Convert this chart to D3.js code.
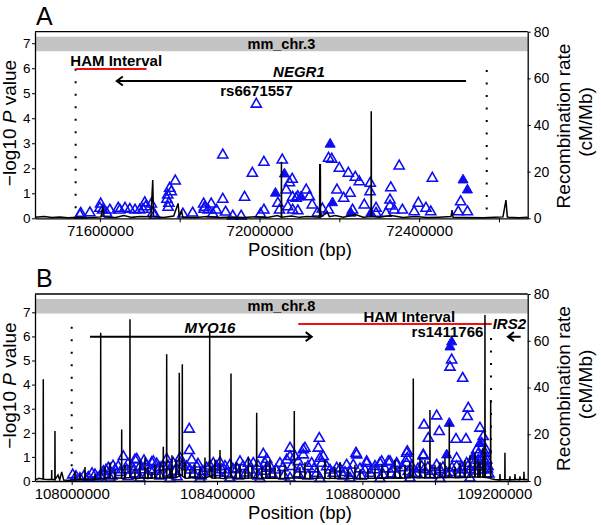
<!DOCTYPE html>
<html><head><meta charset="utf-8">
<script src="https://cdn.jsdelivr.net/npm/d3@7"></script>
<style>body{margin:0;background:#fff}svg{display:block;font-family:"Liberation Sans",Arial,Helvetica,sans-serif}</style>
</head><body><svg id="c" width="601" height="525"></svg>
<script>
// ---------- shared tick values ----------
const leftTicks = [0,1,2,3,4,5,6,7];
const rightTicks = [0,20,40,60,80];
const xLabelTicksA = [71600000,72000000,72400000];
const xMinorTicksA = [71800000,72200000,72600000];
const xLabelTicksB = [108000000,108400000,108800000,109200000];
const xMinorTicksB = [108200000,108600000,109000000];

// ---------- Panel A (positions in Mb, -log10 P) ----------
const snpOpenA = [[71.552,0.20],[71.575,0.22],[71.602,0.57],[71.607,0.33],[71.617,0.20],[71.650,0.33],[71.663,0.40],[71.675,0.36],[71.700,0.33],[71.7125,0.62],[71.708,0.36],[71.715,0.46],[71.7375,0.13],[71.775,1.20],[71.770,0.93],[71.779,1.06],[71.768,0.76],[71.773,0.60],[71.771,0.44],[71.789,1.49],[71.808,0.17],[71.8625,0.44],[71.879,0.57],[71.892,0.33],[71.883,0.17],[71.908,0.76],[71.908,2.53],[71.933,0.09],[71.954,0.09],[71.9625,0.84],[71.982,1.80],[72.011,2.24],[72.011,0.33],[72.046,0.60],[72.050,0.33],[72.057,2.33],[72.075,1.42],[72.082,1.56],[72.083,0.84],[72.096,0.86],[72.096,0.30],[72.117,1.13],[72.071,0.46],[72.125,0.86],[72.132,0.53],[72.173,2.40],[72.181,2.36],[72.200,2.00],[72.2225,1.80],[72.240,1.64],[72.250,1.46],[72.2775,1.40],[72.277,1.06],[72.194,1.13],[72.211,0.80],[72.227,1.00],[72.173,0.33],[72.329,1.22],[72.350,2.09],[72.327,0.73],[72.327,0.49],[72.2625,0.53],[72.292,0.40],[72.233,0.33],[72.358,0.33],[72.398,0.60],[72.417,0.40],[72.3875,0.26],[72.429,0.26],[72.433,1.60],[72.504,0.66],[72.498,0.26],[72.521,0.26],[72.317,0.20],[72.292,0.20],[72.3375,0.33],[71.992,4.56],[71.8325,0.21],[71.915,0.25],[72.0025,0.17],[72.145,0.21],[72.1575,0.37],[72.067,1.13],[72.092,0.80],[72.083,0.33],[71.860,0.57],[71.729,0.57],[71.7325,0.20],[71.688,0.33],[71.646,0.40],[71.625,0.33],[71.600,0.40],[71.550,0.13],[71.8715,0.33],[71.861,0.36]];
const snpFilledA = [[72.040,1.00],[72.0625,1.77],[72.104,0.86],[72.177,2.96],[72.183,0.62],[72.510,1.53],[72.521,1.13],[72.279,0.20],[72.229,0.20]];
const recombA = [[71.4375,0.4],[71.46,0.8],[71.48,0.3],[71.50,0.6],[71.52,0.2],[71.545,0.5],[71.565,0.2],[71.59,0.4],[71.603,0.6],[71.607,5.0],[71.611,0.5],[71.64,0.3],[71.66,1.2],[71.68,0.4],[71.70,0.8],[71.728,0.7],[71.7325,16.4],[71.7345,0.8],[71.76,0.3],[71.785,1.0],[71.796,6.4],[71.799,0.7],[71.805,3.0],[71.808,0.4],[71.84,0.3],[71.87,0.8],[71.90,0.3],[71.93,0.6],[71.96,0.3],[71.99,0.7],[72.02,0.3],[72.045,1.2],[72.0545,0.5],[72.055,24.2],[72.0555,0.5],[72.08,1.0],[72.10,0.4],[72.12,0.8],[72.1505,0.5],[72.151,23],[72.1525,23],[72.153,0.5],[72.17,2.5],[72.175,0.7],[72.19,1.2],[72.21,0.5],[72.24,1.6],[72.26,0.5],[72.2795,0.7],[72.28,45.9],[72.2805,0.7],[72.30,0.5],[72.33,1.2],[72.36,0.3],[72.39,0.8],[72.42,0.3],[72.45,0.5],[72.48,0.8],[72.4825,3.5],[72.485,0.4],[72.52,0.3],[72.56,0.2],[72.59,0.4],[72.61,0.6],[72.6175,7.8],[72.621,0.5],[72.65,0.2],[72.672,0.4]];

// ---------- Panel B ----------
const snpOpenB = [[109.0458,5.02],[109.0411,4.72],[109.076,4.26],[109.0915,3.02],[109.0887,2.67],[109.0045,2.70],[108.9695,2.32],[109.1236,2.19],[109.0116,2.05],[108.9814,1.77],[109.0576,1.73],[109.0851,1.73],[108.9676,1.04],[108.9236,1.22],[108.9236,0.94],[108.9695,0.46],[108.7824,1.15],[108.6814,1.77],[108.6786,1.36],[108.6374,1.29],[108.6833,0.94],[108.688,0.73],[108.876,0.80],[108.8531,0.80],[108.8118,0.80],[108.8944,0.73],[108.7568,0.66],[108.7293,0.53],[109.0595,0.94],[109.1327,1.84],[108.3236,2.15],[108.3236,1.26],[108.3302,0.87],[108.142,1.01],[108.1789,0.90],[108.199,0.84],[108.2202,0.76],[108.2339,0.71],[108.5273,1.11],[108.4632,0.80],[108.6008,1.36],
[108.0028,0.25],[108.0228,0.11],[108.0457,0.15],[108.0641,0.25],[108.087,0.39],[108.1007,0.53],[108.1192,0.46],[108.1282,0.59],[108.1514,0.46],[108.188,0.59],[108.1651,0.59],[108.1926,0.46],[108.2155,0.46],[108.2521,0.59],[108.2796,0.73],[108.298,0.76],[108.3165,0.59],[108.344,0.59],[108.3715,0.53],[108.399,0.59],[108.4128,0.46],[108.4266,0.32],[108.4447,0.46],[108.4998,0.73],[108.532,0.73],[108.5366,0.53],[108.5732,0.73],[108.5917,0.87],[108.6145,1.01],[108.642,1.36],[108.6374,1.08],[108.6924,1.01],[108.6605,0.73],[108.7018,0.59],[108.7843,1.08],[108.775,0.66],[108.8118,0.73],[108.8484,0.73],[108.8713,0.80],[108.8944,0.66],[108.9219,1.15],[108.9219,0.73],[108.9263,0.39],[108.9676,1.08],[108.9632,0.59],[109.0045,0.66],[109.0595,0.59],[109.087,0.73],[109.1146,1.29],[109.1283,1.56],[109.1374,1.15],[109.1421,0.87],[109.1236,0.59],[109.0961,0.46],[109.0686,0.32],[109.032,0.32],[108.986,0.25],[108.9494,0.32],[108.8944,0.25],[108.8575,0.25],[108.8209,0.32],[108.7659,0.32],[108.7199,0.32],[108.6742,0.32],
[108.0724,0.12],[108.1109,0.21],[108.155,0.17],[108.1742,0.29],[108.2072,0.25],[108.243,0.21],[108.265,0.33],[108.2898,0.17],[108.3366,0.29],[108.3558,0.21],[108.3834,0.33],[108.4577,0.21],[108.4797,0.33],[108.5127,0.21],[108.5512,0.29],[108.5843,0.21],[108.6228,0.29],[108.6503,0.21],[108.7467,0.21],[108.7962,0.21],[108.8347,0.46],[108.8787,0.29],[108.9365,0.58],[109.0136,0.46],[109.0466,0.54],[109.0769,0.46],[109.1099,0.41],[109.1484,0.29],
[108.1742,0.87],[108.2246,0.80],[108.2614,0.90],[108.298,0.95],[108.3897,0.73],[108.4081,0.76],[108.486,0.73],[108.5366,0.90],[108.6008,1.01],[108.6236,0.80],[109.1305,1.0],[109.1345,0.7],[109.1396,1.3],[109.1442,0.5],[109.1188,0.85],[109.1160,0.6],
[108.0118,0.18],[108.0339,0.20],[108.0559,0.30],[108.0779,0.20],[108.0944,0.45],[108.1137,0.62],[108.1329,0.35],[108.1549,0.70],[108.1714,0.45],[108.2045,0.65],[108.2237,0.40],[108.243,0.55],[108.265,0.62],[108.2843,0.40],[108.3063,0.66],[108.3256,0.45],[108.3476,0.70],[108.3613,0.40],[108.3806,0.62],[108.4026,0.35],[108.4219,0.60],[108.4356,0.66],[108.4549,0.50],[108.4714,0.60],[108.4907,0.45],[108.5127,0.62],[108.5237,0.40],[108.5457,0.60],[108.5622,0.45],[108.5815,0.55],[108.6063,0.60],[108.6283,0.50],[108.6503,0.60],[108.6668,0.50],[108.7109,0.45],[108.7384,0.50],[108.7522,0.35],[108.7934,0.50],[108.8072,0.45],[108.8347,0.60],[108.8622,0.50],[108.8842,0.50],[108.909,0.55],[108.9365,0.30],[108.953,0.50],[108.9805,0.55],[108.9915,0.40],[109.0218,0.55],[109.0411,0.35],[109.0741,0.55],[109.0906,0.60],[109.1071,0.70],[109.1181,1.10],[109.1347,0.45],[109.1457,0.60],
[108.1057,0.12],[108.188,0.12],[108.2705,0.10],[108.3531,0.10],[108.4356,0.12],[108.5182,0.10],[108.6008,0.12],[108.6833,0.10],[108.7659,0.12],[108.8484,0.10],[108.931,0.12],[109.0136,0.10],[109.0961,0.12]];
const snpFilledB = [[109.0458,5.77],[109.0411,5.56],[109.0392,2.39],[109.032,1.08],[109.1052,1.01],[109.1236,1.56]];
const recombB = [[107.899,0.5],[107.91,1.2],
[107.9214,0.8],[107.9218,43.5],[107.9222,0.8],[107.935,0.6],
[107.9446,0.6],[107.945,4.7],[107.9454,0.6],
[107.9536,0.6],[107.954,21.4],[107.9544,0.6],
[107.9623,2.6],[107.967,0.5],[107.9725,3.9],[107.978,0.4],[107.99,0.3],
[108.0085,0.4],[108.0091,4],[108.0097,0.5],
[108.036,0.6],[108.0366,6],[108.0372,0.8],
[108.0635,0.7],[108.0641,3],[108.0647,0.8],
[108.0794,1],[108.0798,63.4],[108.0802,1.2],
[108.1048,1.5],[108.1054,8],[108.106,1.2],
[108.1186,1],[108.1192,5],[108.1198,1.4],
[108.1372,1.2],[108.1376,22],[108.138,1.2],
[108.16,1.5],[108.1604,69.2],[108.1608,1.4],
[108.1874,1.2],[108.188,9],[108.1886,1.5],
[108.2094,1],[108.21,6],[108.2106,1.3],
[108.2286,1.2],[108.2292,7],[108.2298,1.5],
[108.2517,1.2],[108.2521,14.7],[108.2525,1.5],
[108.261,1.2],[108.2614,54.2],[108.2618,1.6],
[108.2754,1.3],[108.276,11],[108.2766,1.5],
[108.2957,2],[108.2961,46.3],[108.2965,2.5],
[108.304,2.5],[108.3044,49.9],[108.3048,2],
[108.3112,1.5],[108.3118,8],[108.3124,1.2],
[108.325,1.3],[108.3256,5],[108.3262,1.5],
[108.3525,1.2],[108.3531,6],[108.3537,1.4],
[108.3794,2],[108.3798,63.9],[108.3802,2],
[108.3938,1.2],[108.3944,9],[108.395,1.3],
[108.4077,1.3],[108.4081,13.3],[108.4085,1.2],
[108.4213,1],[108.4219,5],[108.4225,1.3],
[108.438,1.4],[108.4384,46],[108.4388,1.5],
[108.4626,1.2],[108.4632,7],[108.4638,1.3],
[108.4856,1.2],[108.486,10.4],[108.4864,1.4],
[108.5087,1.5],[108.5091,29.2],[108.5095,1.3],
[108.5231,1.1],[108.5237,6],[108.5243,1.4],
[108.5451,1.2],[108.5457,9],[108.5463,1.3],
[108.5726,1.2],[108.5732,5],[108.5738,1.1],
[108.6122,1.3],[108.6126,29.9],[108.613,1.4],
[108.6277,1.2],[108.6283,6],[108.6289,1.2],
[108.6553,1],[108.6559,4],[108.6565,1.2],
[108.7103,1.1],[108.7109,5],[108.7115,1.3],
[108.7378,1.2],[108.7384,8],[108.739,1.2],
[108.7928,1],[108.7934,5],[108.794,1.2],
[108.8341,1.3],[108.8347,6],[108.8353,1.2],
[108.8892,1.4],[108.8898,9],[108.8904,1.3],
[108.9167,1.2],[108.9173,7],[108.9179,1.5],
[108.9397,1.6],[108.9401,43.9],[108.9405,1.5],
[108.9579,1.3],[108.9585,10],[108.9591,1.5],
[108.9856,1.5],[108.986,30.4],[108.9864,1.6],
[109.013,1.4],[109.0136,8],[109.0142,1.5],
[109.0388,1.5],[109.0392,24.7],[109.0396,1.6],
[109.0543,1.4],[109.0549,6],[109.0555,1.5],
[109.0818,1.5],[109.0824,9],[109.083,1.6],
[109.1093,1.8],[109.1099,12],[109.1105,1.7],
[109.1231,1.6],[109.1237,8],[109.1243,1.8],
[109.137,1.5],[109.1374,71],[109.1378,1.6],
[109.1527,1.2],[109.1531,34.7],[109.1535,1],
[109.165,0.6],
[109.1781,0.4],[109.1787,3],[109.1793,0.5],
[109.192,0.5],[109.1924,12.1],[109.1928,0.6],
[109.2056,0.4],[109.2062,2],[109.2068,0.6],
[109.2194,0.5],[109.22,3],[109.2206,0.7],
[109.2331,0.5],[109.2337,2],[109.2343,0.8],
[109.2441,0.6],[109.2447,4],[109.2453,0.7],
[109.255,0.5],
// smaller spikes in the dense band
[108.0224,0.5],[108.0228,3],[108.0232,0.6],
[108.0912,1],[108.0916,6],[108.092,1.2],
[108.1463,1.1],[108.1467,7],[108.1471,1.3],
[108.1738,1.2],[108.1742,5],[108.1746,1.1],
[108.2013,1.3],[108.2017,10],[108.2021,1.2],
[108.2206,1.2],[108.221,4],[108.2214,1.4],
[108.2426,1.1],[108.243,8],[108.2434,1.3],
[108.2701,1.2],[108.2705,6],[108.2709,1.4],
[108.2866,1.3],[108.287,9],[108.2874,1.5],
[108.3389,1.2],[108.3393,7],[108.3397,1.4],
[108.3664,1.3],[108.3668,10],[108.3672,1.2],
[108.3857,1.4],[108.3861,6],[108.3865,1.3],
[108.4518,1.2],[108.4522,8],[108.4526,1.3],
[108.4765,1.1],[108.4769,5],[108.4773,1.3],
[108.4958,1.2],[108.4962,7],[108.4966,1.4],
[108.5343,1.3],[108.5347,8],[108.5351,1.2],
[108.5591,1.2],[108.5595,6],[108.5599,1.3],
[108.5866,1.1],[108.587,7],[108.5874,1.3],
[108.6416,1.3],[108.642,8],[108.6424,1.2],
[108.6774,1.2],[108.6778,6],[108.6782,1.3],
[108.6967,1.3],[108.6971,9],[108.6975,1.2],
[108.7242,1.1],[108.7246,6],[108.725,1.3],
[108.76,1.2],[108.7604,5],[108.7608,1.1],
[108.7792,1.2],[108.7796,7],[108.78,1.3],
[108.815,1.1],[108.8154,5],[108.8158,1.2],
[108.8535,1.3],[108.8539,7],[108.8543,1.2],
[108.87,1.2],[108.8704,5],[108.8708,1.3],
[108.903,1.2],[108.9034,6],[108.9038,1.4],
[108.9306,1.3],[108.931,8],[108.9314,1.5],
[108.9719,1.4],[108.9723,9],[108.9727,1.5],
[108.9994,1.3],[108.9998,7],[109.0002,1.4],
[109.0269,1.5],[109.0273,10],[109.0277,1.4],
[109.0682,1.4],[109.0686,8],[109.069,1.5],
[109.0957,1.6],[109.0961,11],[109.0965,1.7],
[109.1177,1.6],[109.1181,9],[109.1185,1.8],
[109.1315,1.7],[109.1319,14],[109.1323,1.6]];

// ---------- annotation values ----------
const chromNames = ["mm_chr.3","mm_chr.8"];
const panelLetters = ["A","B"];
const hamIntervals = [[71.5393,71.7168,5.97],[108.6236,109.1558,6.51]];
const hamLabels = [[71.641,6.10],[108.929,6.59]];
const dottedLines = [[[71.5393,5.98],[72.5693,5.93]],[[108.0,6.40],[109.1539,5.93]]];
const genes = [
  [{name:"NEGR1",from:72.5175,to:71.6425,y:5.49,lx:72.0988,ly:5.66,anchor:"middle"}],
  [{name:"MYO16",from:108.0504,to:108.6605,y:5.99,lx:108.3806,ly:6.15,anchor:"middle"},
   {name:"IRS2",from:109.2356,to:109.2007,y:5.99,lx:109.1586,ly:6.31,anchor:"start"}]
];
const snpLabels = [["rs6671557",71.9925,4.90],["rs1411766",109.0342,5.96]];

const panels = [
  {top:31.7,bottom:218.3,xDomain:[71437500,72672000],yMax:7.46,open:snpOpenA,filled:snpFilledA,rec:recombA,major:xLabelTicksA,minor:xMinorTicksA},
  {top:294,bottom:481,xDomain:[107899000,109255000],yMax:7.76,open:snpOpenB,filled:snpFilledB,rec:recombB,major:xLabelTicksB,minor:xMinorTicksB}
];

const svg = d3.select("#c");
const L = 35, R = 527.7;
const BLUE = "#0d0df0";
const tri = d3.symbol().type(d3.symbolTriangle).size(44);

panels.forEach((p,i)=>{
  const g = svg.append("g");
  const x = d3.scaleLinear().domain(p.xDomain).range([L,R]);
  const X = mb => x(mb*1e6);
  const y = d3.scaleLinear().domain([0,p.yMax]).range([p.bottom,p.top]);
  const yR = d3.scaleLinear().domain([0,80]).range([p.bottom,p.top]);

  // gray chromosome band
  g.append("rect").attr("x",L).attr("width",R-L).attr("y",p.top+5).attr("height",14.5).attr("fill","#c4c4c4");
  g.append("text").attr("x",(L+R)/2).attr("y",p.top+17.3).attr("text-anchor","middle")
    .attr("font-size",14.5).attr("font-weight","bold").text(chromNames[i]);

  // dotted lines
  dottedLines[i].forEach(d=>{
    g.append("line").attr("x1",X(d[0])).attr("x2",X(d[0])).attr("y1",y(d[1])).attr("y2",y(0))
      .attr("stroke","#000").attr("stroke-width",2).attr("stroke-dasharray","2,10.5");
  });

  // HAM interval
  const h = hamIntervals[i];
  g.append("line").attr("x1",X(h[0])).attr("x2",X(h[1])).attr("y1",y(h[2])).attr("y2",y(h[2]))
    .attr("stroke","#f01010").attr("stroke-width",2);
  g.append("text").attr("x",X(hamLabels[i][0])).attr("y",y(hamLabels[i][1])).attr("text-anchor","middle")
    .attr("font-size",15).attr("font-weight","bold").text("HAM Interval");

  // genes
  genes[i].forEach(gn=>{
    const yy = y(gn.y), x1 = X(gn.from), x2 = X(gn.to);
    const dir = x2 > x1 ? 1 : -1;
    g.append("path").attr("d",`M${x1},${yy}H${x2}M${x2-dir*6},${yy-4.5}L${x2},${yy}L${x2-dir*6},${yy+4.5}`)
      .attr("fill","none").attr("stroke","#000").attr("stroke-width",2);
    g.append("text").attr("x",X(gn.lx)).attr("y",y(gn.ly)).attr("text-anchor",gn.anchor)
      .attr("font-size",15).attr("font-weight","bold").attr("font-style","italic").text(gn.name);
  });

  // SNPs
  g.append("g").selectAll("path").data(p.open).join("path")
    .attr("d",tri).attr("transform",d=>`translate(${X(d[0])},${y(d[1])})`)
    .attr("fill","none").attr("stroke",BLUE).attr("stroke-width",1.6);
  g.append("g").selectAll("path").data(p.filled).join("path")
    .attr("d",tri).attr("transform",d=>`translate(${X(d[0])},${y(d[1])})`)
    .attr("fill",BLUE).attr("stroke",BLUE).attr("stroke-width",1);

  // recombination rate (sorted by position)
  const rec = p.rec.slice().sort((a,b)=>a[0]-b[0]);
  g.append("path").datum(rec)
    .attr("d",d3.line().x(d=>X(d[0])).y(d=>yR(d[1])))
    .attr("fill","none").attr("stroke","#000").attr("stroke-width",1.5).attr("stroke-linejoin","miter");

  // SNP label
  g.append("text").attr("x",X(snpLabels[i][1])).attr("y",y(snpLabels[i][2])).attr("text-anchor","middle")
    .attr("font-size",15).attr("font-weight","bold").text(snpLabels[i][0]);

  // frame top
  g.append("line").attr("x1",L).attr("x2",R).attr("y1",p.top).attr("y2",p.top).attr("stroke","#000").attr("stroke-width",1.3);

  // axes
  const ax = g.append("g").attr("transform",`translate(${L},0)`)
    .call(d3.axisLeft(y).tickValues(leftTicks).tickSize(3).tickSizeOuter(0).tickPadding(1.5));
  ax.selectAll("text").attr("font-size",13.5).attr("font-family","inherit");
  const axr = g.append("g").attr("transform",`translate(${R},0)`)
    .call(d3.axisRight(yR).tickValues(rightTicks).tickSize(3).tickSizeOuter(0).tickPadding(3));
  axr.selectAll("text").attr("font-size",14).attr("font-family","inherit");
  const axb = g.append("g").attr("transform",`translate(0,${p.bottom})`)
    .call(d3.axisBottom(x).tickValues(p.major).tickFormat(d3.format("d")).tickSize(4).tickSizeOuter(0).tickPadding(3));
  axb.selectAll("text").attr("font-size",15).attr("font-family","inherit")
    .attr("dx",d=> (x(d)+39 > R+4) ? (R+5.5-39-x(d)) : 0);
  g.append("g").attr("transform",`translate(0,${p.bottom})`)
    .call(d3.axisBottom(x).tickValues(p.minor).tickFormat("").tickSize(4).tickSizeOuter(0))
    .select(".domain").remove();
  g.selectAll(".domain").attr("stroke-width",1.3);

  // titles
  const cy = (p.top+p.bottom)/2;
  const t1 = g.append("text").attr("transform",`translate(16,${cy-2}) rotate(-90)`).attr("text-anchor","middle").attr("font-size",19);
  t1.append("tspan").text("\u2212log10 ");
  t1.append("tspan").attr("font-style","italic").text("P");
  t1.append("tspan").text(" value");
  g.append("text").attr("transform",`translate(570,${cy+1}) rotate(-90)`).attr("text-anchor","middle").attr("font-size",19).text("Recombination rate");
  g.append("text").attr("transform",`translate(592,${cy-3}) rotate(-90)`).attr("text-anchor","middle").attr("font-size",19).text("(cM/Mb)");
  g.append("text").attr("x",300).attr("y",p.bottom+38).attr("text-anchor","middle").attr("font-size",18.5).text("Position (bp)");
  g.append("text").attr("x",36).attr("y",p.top-7).attr("font-size",25).text(panelLetters[i]);
});
</script></body></html>
